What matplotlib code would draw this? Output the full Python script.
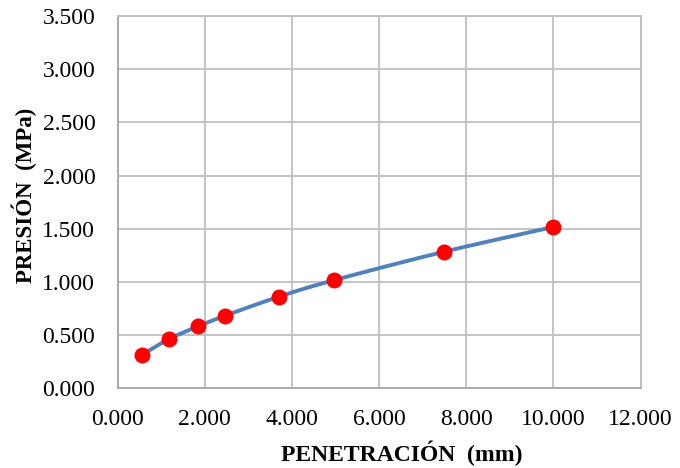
import matplotlib
matplotlib.use('Agg')
from matplotlib import pyplot as plt
from matplotlib.ticker import FuncFormatter
import numpy

plt.rcParams['font.family'] = ['Liberation Serif', 'DejaVu Serif']

# ensayo: penetracion (mm) vs presion (MPa)
penetracion = [0.57, 1.18, 1.84, 2.46, 3.70, 4.97, 7.49, 10.00]
presion = [0.317, 0.463, 0.581, 0.681, 0.861, 1.017, 1.284, 1.517]


def catmull_rom(x, y, n=30):
    # smooth curve through the points (like excel "smoothed line")
    px = numpy.concatenate([[2*x[0]-x[1]], x, [2*x[-1]-x[-2]]])
    py = numpy.concatenate([[2*y[0]-y[1]], y, [2*y[-1]-y[-2]]])
    xs, ys = [], []
    t = numpy.linspace(0, 1, n)
    for i in range(1, len(px)-2):
        for p, out in ((px, xs), (py, ys)):
            p0, p1, p2, p3 = p[i-1], p[i], p[i+1], p[i+2]
            out.extend(0.5*((2*p1) + (-p0+p2)*t + (2*p0-5*p1+4*p2-p3)*t**2
                            + (-p0+3*p1-3*p2+p3)*t**3))
    return numpy.array(xs), numpy.array(ys)


fig = plt.figure(figsize=(6.8, 4.68), dpi=100)
ax = fig.add_axes([0.1728, 0.1703, 0.9422-0.1728, 0.9658-0.1703])

sx, sy = catmull_rom(numpy.array(penetracion), numpy.array(presion))
ax.plot(sx, sy, color='#4F81BD', lw=2.8, zorder=3, solid_capstyle='round')
ax.plot(penetracion, presion, 'o', color='#FF0000', markersize=11.5,
        markeredgewidth=0, zorder=4)

ax.set_xlim(0, 12)
ax.set_ylim(0, 3.5)
ax.set_xticks(numpy.arange(0, 12.1, 2))
ax.set_yticks(numpy.arange(0, 3.51, 0.5))
fmt = FuncFormatter(lambda v, p: '%.3f' % v)
ax.xaxis.set_major_formatter(fmt)
ax.yaxis.set_major_formatter(fmt)
ax.tick_params(axis='both', length=0, labelsize=17, colors='black')
ax.tick_params(axis='x', pad=15)
ax.tick_params(axis='y', pad=16)
ax.grid(True, color='#BFBFBF', lw=1.3)
ax.set_axisbelow(True)
for s in ax.spines.values():
    s.set_color('#BFBFBF')
    s.set_linewidth(1.3)
ax.spines['left'].set_color('#A6A6A6')
ax.spines['bottom'].set_color('#A6A6A6')

fig.text(402/680, 1-453/468, 'PENETRACIÓN  (mm)', ha='center', va='center',
         fontsize=17, fontweight='bold')
fig.text(24/680, 1-195/468, 'PRESIÓN  (MPa)', ha='center', va='center',
         rotation=90, fontsize=16.5, fontweight='bold')

fig.savefig('out.png', dpi=100)
